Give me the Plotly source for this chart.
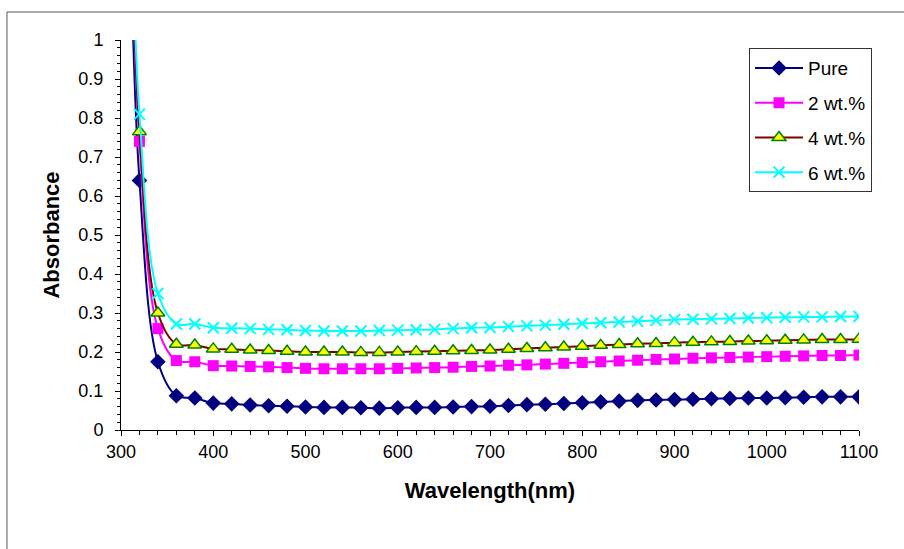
import plotly.graph_objects as go

wavelength = [310] + list(range(320, 1101, 20))

pure = [1.30, 0.64, 0.175, 0.088, 0.082, 0.069, 0.067, 0.064, 0.062, 0.061, 0.059,
        0.058, 0.058, 0.057, 0.056, 0.057, 0.058, 0.058, 0.059, 0.060, 0.061,
        0.063, 0.065, 0.066, 0.068, 0.070, 0.072, 0.074, 0.076, 0.077, 0.078,
        0.079, 0.080, 0.081, 0.082, 0.082, 0.083, 0.084, 0.085, 0.085, 0.085]
wt2 = [1.40, 0.74, 0.26, 0.178, 0.175, 0.165, 0.164, 0.163, 0.162, 0.160, 0.158,
       0.157, 0.157, 0.157, 0.157, 0.158, 0.159, 0.160, 0.161, 0.163, 0.164,
       0.166, 0.167, 0.169, 0.171, 0.173, 0.175, 0.177, 0.179, 0.181, 0.182,
       0.184, 0.185, 0.186, 0.187, 0.188, 0.189, 0.190, 0.191, 0.191, 0.192]
wt4 = [1.42, 0.765, 0.30, 0.220, 0.218, 0.208, 0.207, 0.205, 0.204, 0.202, 0.200,
       0.200, 0.200, 0.199, 0.199, 0.200, 0.201, 0.202, 0.203, 0.204, 0.205,
       0.207, 0.209, 0.211, 0.213, 0.215, 0.217, 0.219, 0.221, 0.222, 0.224,
       0.225, 0.226, 0.227, 0.228, 0.229, 0.230, 0.231, 0.232, 0.232, 0.233]
wt6 = [1.45, 0.81, 0.35, 0.272, 0.272, 0.262, 0.261, 0.260, 0.258, 0.257, 0.255,
       0.254, 0.254, 0.254, 0.255, 0.256, 0.257, 0.258, 0.260, 0.262, 0.263,
       0.265, 0.267, 0.269, 0.271, 0.273, 0.275, 0.277, 0.279, 0.281, 0.283,
       0.284, 0.285, 0.286, 0.287, 0.288, 0.289, 0.290, 0.290, 0.291, 0.291]

series_names = ["Pure", "2 wt.%", "4 wt.%", "6 wt.%"]
y_ticks = [0, 0.1, 0.2, 0.3, 0.4, 0.5, 0.6, 0.7, 0.8, 0.9, 1]
y_tick_labels = ["0", "0.1", "0.2", "0.3", "0.4", "0.5", "0.6", "0.7", "0.8", "0.9", "1"]

fig = go.Figure()
styles = [
    dict(line=dict(color="#000080", width=2, shape="spline"),
         marker=dict(symbol="diamond", size=12, color="#000080")),
    dict(line=dict(color="#FF00FF", width=2, shape="spline"),
         marker=dict(symbol="square", size=11, color="#FF00FF")),
    dict(line=dict(color="#800000", width=2, shape="spline"),
         marker=dict(symbol="triangle-up", size=12, color="#FFFF00",
                     line=dict(color="#008000", width=1.5))),
    dict(line=dict(color="#00FFFF", width=2, shape="spline"),
         marker=dict(symbol="x-thin", size=11, color="#00FFFF",
                     line=dict(color="#00FFFF", width=2))),
]
for name, ys, st, g in zip(series_names, [pure, wt2, wt4, wt6], styles, "abcd"):
    fig.add_trace(go.Scatter(x=wavelength, y=ys, name=name, mode="lines+markers",
                             legendgroup=g, **st))

ff = "Arial, Liberation Sans, sans-serif"
fig.update_layout(
    width=904, height=549,
    margin=dict(l=121, r=45, t=40, b=119),
    paper_bgcolor="white", plot_bgcolor="white",
    font=dict(family=ff, size=18, color="black"),
    showlegend=True,
    legend=dict(x=0.851, y=0.979, xanchor="left", yanchor="top",
                bordercolor="#333333", borderwidth=1, bgcolor="white",
                font=dict(family=ff, size=19, color="black"),
                tracegroupgap=7, itemwidth=48),
    xaxis=dict(range=[300, 1100], tickmode="array",
               tickvals=list(range(300, 1101, 100)),
               showline=True, linecolor="black", linewidth=1,
               ticks="outside", ticklen=5, tickcolor="black",
               minor=dict(dtick=20, ticks="outside", ticklen=4, tickcolor="black"),
               showgrid=False, zeroline=False,
               tickfont=dict(family=ff, size=18),
               title=dict(text="<b>Wavelength(nm)</b>", font=dict(family=ff, size=22), standoff=22)),
    yaxis=dict(range=[0, 1], tickmode="array", tickvals=y_ticks, ticktext=y_tick_labels,
               showline=True, linecolor="black", linewidth=1,
               ticks="outside", ticklen=5, tickcolor="black",
               minor=dict(dtick=0.02, ticks="outside", ticklen=3, tickcolor="black"),
               showgrid=False, zeroline=False,
               tickfont=dict(family=ff, size=18), ticklabelstandoff=8,
               title=dict(text="<b>Absorbance</b>", font=dict(family=ff, size=22), standoff=12)),
)
fig.add_shape(type="rect", xref="paper", yref="paper",
              x0=-0.1545, x1=1.2, y0=-0.5, y1=1.0718,
              line=dict(color="#555555", width=1), layer="below")
fig.write_html("out.html")
